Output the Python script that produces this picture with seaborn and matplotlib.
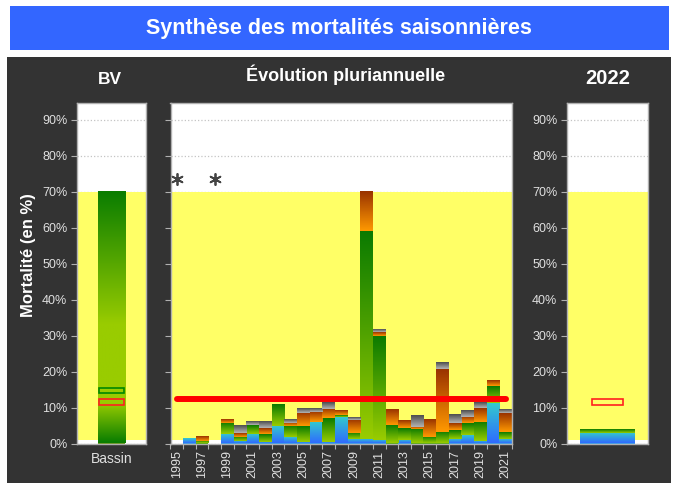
import numpy as np
import pandas as pd
import matplotlib
matplotlib.use("Agg")
import matplotlib.pyplot as plt
import seaborn as sns
from matplotlib.colors import LinearSegmentedColormap, to_hex
from matplotlib.patches import Rectangle

# -----------------------------
# Data
# -----------------------------
annees = list(range(1995, 2022))
hiver = [0, 1.2, 0, 0, 2.7, 0.6, 2.7, 0.5, 4.9, 1.8, 0.5, 6.0, 0.5, 7.4, 1.2,
         1.3, 0.9, 0, 0.9, 0, 0, 0, 1.3, 2.4, 0.6, 11.3, 1.3]
printemps = [0, 0, 0.8, 0, 3.1, 1.3, 2.4, 2.2, 5.9, 3.1, 4.3, 0, 6.5, 0.5, 1.7,
             57.8, 29.0, 5.2, 3.3, 4.0, 1.8, 3.2, 2.5, 3.3, 5.4, 4.6, 1.9]
ete = [0, 0, 1.3, 0, 1.1, 1.0, 0, 1.5, 0, 0.9, 3.7, 2.8, 2.6, 1.2, 3.7,
       10.9, 1.1, 4.2, 2.1, 0.6, 4.8, 17.4, 1.8, 1.8, 3.8, 1.4, 5.2]
automne = [0, 0, 0, 0, 0, 2.0, 0.9, 1.8, 0, 1.1, 1.2, 1.0, 1.8, 0, 0.8,
           0, 0.6, 0, 0, 3.1, 0, 1.8, 2.4, 1.9, 1.5, 0, 1.0]
annees_sans_donnees = [1995, 1998]
seuil = 12.4

annee_courante = [2022]
hiver_2022 = [2.8]
printemps_2022 = [1.0]

bassin_max = 70
bassin_moyenne = (14.0, 15.5)
reference = (10.8, 12.3)
limite_jaune = (1, 70)

# -----------------------------
# Style
# -----------------------------
sns.set_style("white")
plt.rcParams["font.family"] = ["Liberation Sans", "DejaVu Sans"]

FOND = "#333333"
JAUNE = "#ffff66"
CLAIR = "#e0e0e0"
BORD = "#b0b0b0"
YMAX = 94.6

saisons = ["Automne", "Été", "Printemps", "Hiver"]   # stacked top -> bottom
couleurs = {"Hiver": "#3399ee", "Printemps": "#55aa00",
            "Été": "#cc6600", "Automne": "#808080"}
degrades = {"Hiver": ["#2f6bff", "#33cccc"],
            "Printemps": ["#99cc00", "#0a7a00"],
            "Été": ["#ff9900", "#993300"],
            "Automne": ["#b4b4b4", "#4d4d4d"]}
par_couleur = {to_hex(c): s for s, c in couleurs.items()}


def degrade(ax, patch, stops):
    x0, y0 = patch.get_x(), patch.get_y()
    w, h = patch.get_width(), patch.get_height()
    cmap = LinearSegmentedColormap.from_list("d", stops)
    ax.imshow(np.linspace(0, 1, 128).reshape(-1, 1), cmap=cmap, origin="lower",
              extent=(x0, x0 + w, y0, y0 + h), aspect="auto",
              interpolation="bilinear", zorder=1.2)


def empiler(ax, x, series, shrink):
    df = pd.DataFrame({
        "annee": list(x) * len(series),
        "saison": [s for s in series for _ in x],
        "valeur": [v for s in series for v in series[s]],
    })
    sns.histplot(data=df, x="annee", weights="valeur", hue="saison",
                 hue_order=saisons, multiple="stack", discrete=True,
                 shrink=shrink, palette=couleurs, alpha=1, linewidth=0,
                 legend=False, ax=ax)
    for p in list(ax.patches):
        s = par_couleur.get(to_hex(p.get_facecolor()))
        if s and p.get_height() > 0:
            degrade(ax, p, degrades[s])


def habiller(ax, etiquettes=True):
    ax.set_facecolor("white")
    ax.set_ylim(0, YMAX)
    ax.set_yticks(range(0, 100, 10))
    ax.set_yticklabels([f"{v}%" for v in range(0, 100, 10)] if etiquettes else [])
    ax.axhspan(*limite_jaune, color=JAUNE, zorder=0.8, lw=0)
    ax.yaxis.grid(True, color="#c4c4c4", linestyle=":", linewidth=0.9)
    ax.set_axisbelow(True)
    for s in ax.spines.values():
        s.set_color(BORD)
        s.set_linewidth(1)
    ax.tick_params(axis="y", left=True, length=4, color=BORD,
                   labelcolor=CLAIR, labelsize=9, pad=3)
    ax.set_xlabel("")
    ax.set_ylabel("")


fig = plt.figure(figsize=(6.73, 4.83), dpi=100)
fig.add_artist(Rectangle((7 / 673, 0), 664 / 673, 426 / 483, transform=fig.transFigure,
                         facecolor=FOND, edgecolor="none", zorder=-1))
fig.add_artist(Rectangle((10 / 673, 1 - 50 / 483), 659 / 673, 44 / 483,
                         transform=fig.transFigure, facecolor="#3366ff",
                         edgecolor="none", zorder=-1))
fig.text(0.504, 0.942, "Synthèse des mortalités saisonnières", color="white",
         fontsize=15.5, fontweight="bold", ha="center", va="center")

bas, haut = (483 - 443.5) / 483, 340.5 / 483
ax_bv = fig.add_axes([77 / 673, bas, 69 / 673, haut])
ax_mid = fig.add_axes([170.5 / 673, bas, 341.5 / 673, haut])
ax_an = fig.add_axes([567 / 673, bas, 81 / 673, haut])

# -------------------------
# BV (bassin)
# -------------------------
sns.barplot(x=["Bassin"], y=[bassin_max], width=0.4, color="#66aa00",
            linewidth=0, ax=ax_bv)
degrade(ax_bv, ax_bv.patches[0],
        [(0, "#0a7d00"), (11 / 70, "#99cc00"), (33 / 70, "#99cc00"), (1, "#0a7d00")])
ax_bv.bar(0, bassin_moyenne[1] - bassin_moyenne[0], bottom=bassin_moyenne[0],
          width=0.35, fill=False, edgecolor="#008800", linewidth=1.2, zorder=3)
ax_bv.bar(0, reference[1] - reference[0], bottom=reference[0],
          width=0.35, fill=False, edgecolor="#ff2020", linewidth=1.2, zorder=3)
habiller(ax_bv)
ax_bv.set_xlim(-0.5, 0.5)
ax_bv.set_xticks([0])
ax_bv.set_xticklabels(["Bassin"])
ax_bv.tick_params(axis="x", length=0, labelcolor=CLAIR, labelsize=10, pad=6)

# -------------------------
# Evolution pluriannuelle
# -------------------------
empiler(ax_mid, annees, {"Hiver": hiver, "Printemps": printemps,
                         "Été": ete, "Automne": automne}, 1)
sns.scatterplot(x=annees_sans_donnees, y=[73.5] * len(annees_sans_donnees),
                marker=(6, 2, 0), s=65, color="#444444", linewidth=1.3,
                ax=ax_mid, zorder=3)
sns.lineplot(x=[annees[0], annees[-1]], y=[seuil, seuil], color="#ff0000",
             linewidth=4.3, solid_capstyle="round", ax=ax_mid, zorder=4)
habiller(ax_mid, etiquettes=False)
ax_mid.set_xlim(annees[0] - 0.5, annees[-1] + 0.5)
ax_mid.set_xticks(np.arange(annees[0] - 0.5, annees[-1] + 1))
ax_mid.set_xticklabels([])
ax_mid.set_xticks(annees[::2], minor=True)
ax_mid.set_xticklabels([str(a) for a in annees[::2]], minor=True)
ax_mid.tick_params(axis="x", which="major", bottom=True, length=3.5, color=BORD)
ax_mid.tick_params(axis="x", which="minor", bottom=True, length=0, labelrotation=90,
                   labelcolor=CLAIR, labelsize=9, pad=5)

# -------------------------
# 2022
# -------------------------
empiler(ax_an, annee_courante, {"Hiver": hiver_2022, "Printemps": printemps_2022}, 0.667)
ax_an.bar(annee_courante[0], reference[1] - reference[0], bottom=reference[0],
          width=0.38, fill=False, edgecolor="#ff2020", linewidth=1.2, zorder=3)
habiller(ax_an)
ax_an.set_xlim(annee_courante[0] - 0.5, annee_courante[0] + 0.5)
ax_an.set_xticks([])

# titles
fig.text(110 / 673, 1 - 80 / 483, "BV", color="white", fontsize=12.5,
         fontweight="bold", ha="center", va="center")
fig.text(346 / 673, 1 - 75 / 483, "Évolution pluriannuelle", color="white",
         fontsize=13, fontweight="bold", ha="center", va="center")
fig.text(608 / 673, 1 - 78 / 483, "2022", color="white", fontsize=14.5,
         fontweight="bold", ha="center", va="center")
fig.text(28 / 673, 1 - 255 / 483, "Mortalité (en %)", color="white", fontsize=12,
         fontweight="bold", ha="center", va="center", rotation=90)

fig.savefig("out.png", dpi=100, facecolor="white")
